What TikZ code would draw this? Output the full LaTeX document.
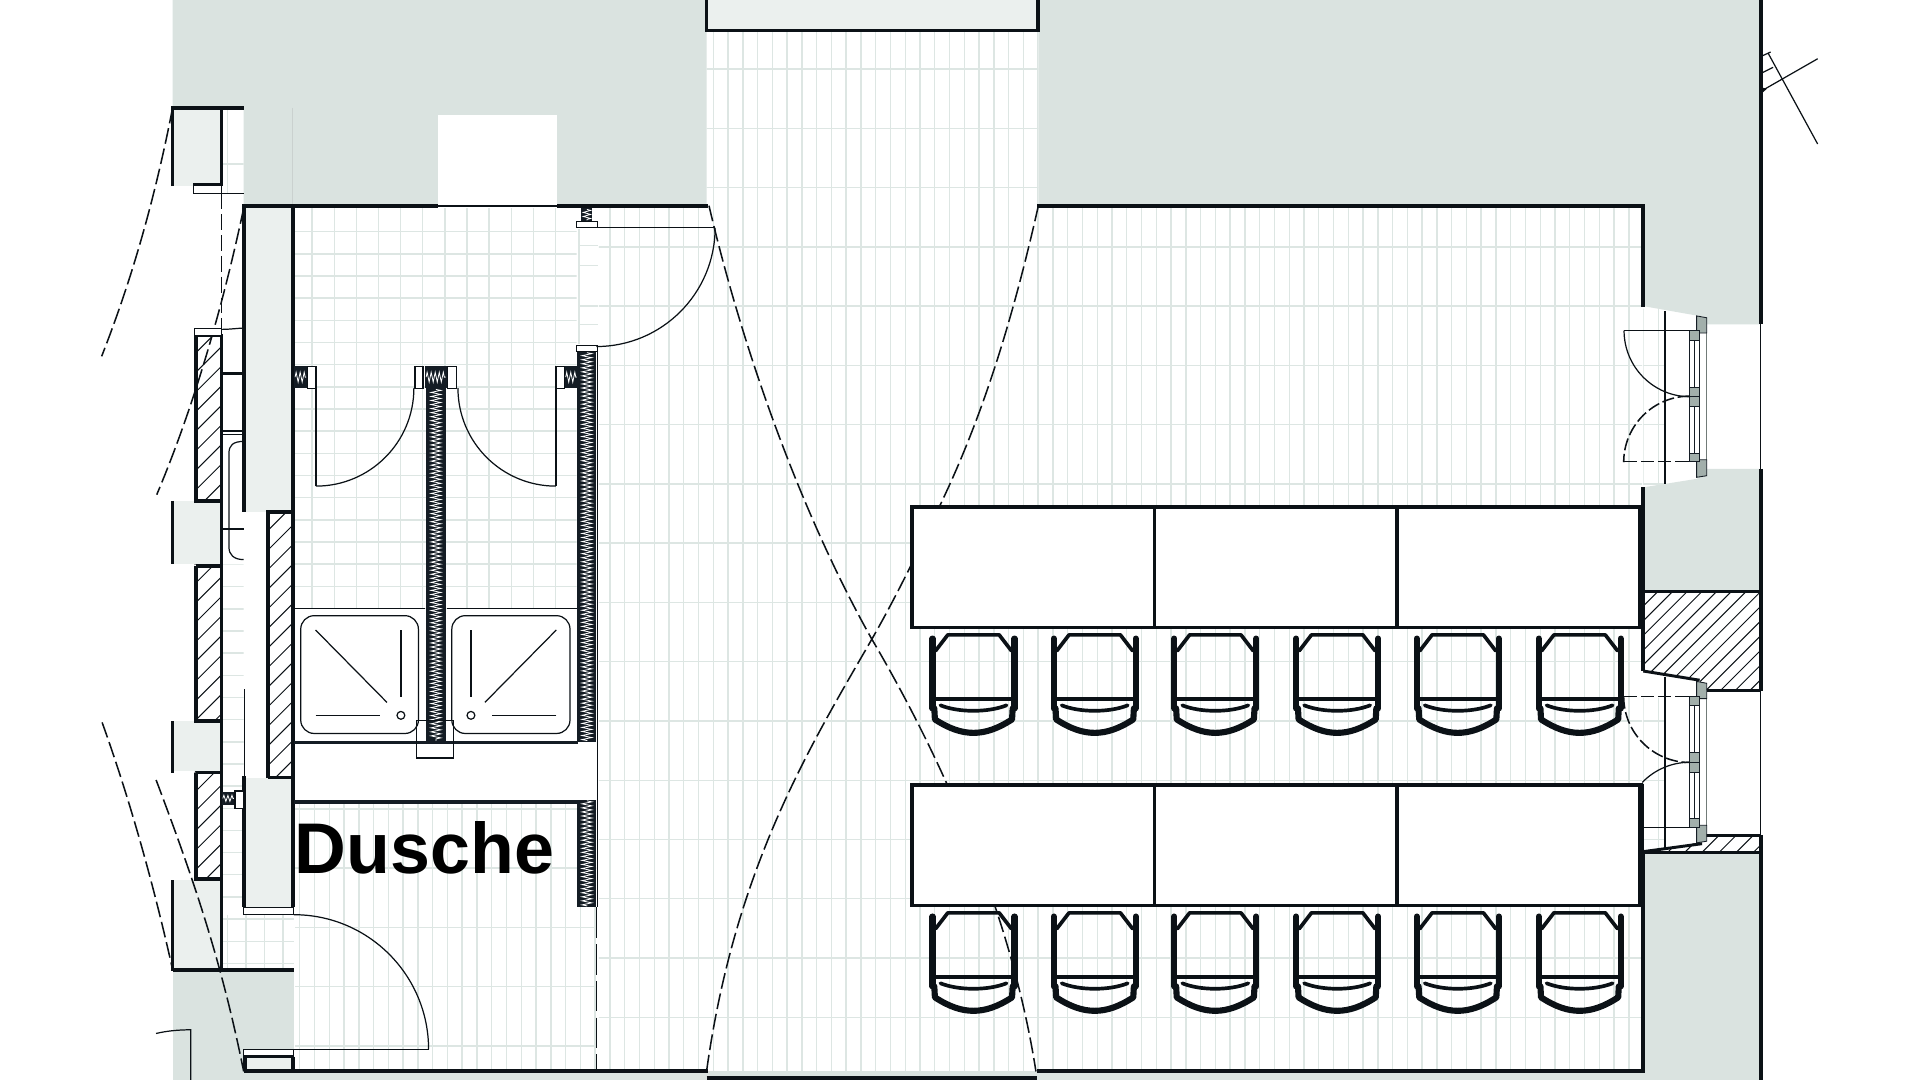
\documentclass[tikz,border=0pt]{standalone}
\usepackage{fontspec}
\setmainfont{Liberation Sans}
\usetikzlibrary{decorations.pathmorphing}
\definecolor{wallgrey}{HTML}{DAE3E0}
\definecolor{lightfill}{HTML}{EBF0EE}
\definecolor{tile}{HTML}{DDE6E3}
\definecolor{ink}{HTML}{0B1116}
\definecolor{dark}{HTML}{141C24}
\definecolor{frameg}{HTML}{A2AFAB}
\tikzset{
  tileline/.style={draw=tile,line width=1.15pt},
  wallthick/.style={draw=ink,line width=3pt,line cap=butt},
  wallmed/.style={draw=ink,line width=1.8pt},
  thinline/.style={draw=ink,line width=1pt},
  hatchline/.style={draw=ink,line width=.8pt},
  dashline/.style={draw=ink,line width=1.25pt,dash pattern=on 13pt off 4pt},
  winblock/.style={fill=frameg,draw=dark,line width=.7pt},
  capbox/.style={fill=white,draw=ink,line width=1pt},
  chairline/.style={draw=ink,line join=round,line cap=round},
  zig/.style={draw=white,line width=.65pt,decorate,decoration={zigzag,segment length=3.3pt,amplitude=#1}}
}
\newcommand{\vwall}[5]{% xc halfw y1 y2 amp
  \fill[dark] (#1-#2,#3) rectangle (#1+#2,#4);
  \draw[zig=#5] (#1,#3+1) -- (#1,#4-1);}
\newcommand{\hwall}[5]{% yc halfw x1 x2 amp
  \fill[dark] (#3,#1-#2) rectangle (#4,#1+#2);
  \draw[zig=#5] (#3+1,#1) -- (#4-1,#1);}
\newcommand{\seat}[2]{%
  \begin{scope}[shift={(#1,#2)}]
    \draw[chairline,line width=5pt] (-33.5,5) -- (-33.5,62);
    \draw[chairline,line width=5pt] (33.5,5) -- (33.5,62);
    \draw[chairline,line width=3pt] (-31,15) -- (-21,2) -- (21,2) -- (31,15);
    \draw[chairline,line width=3pt] (-33,54.5) -- (33,54.5);
    \draw[chairline,line width=3pt] (-27,59.5) .. controls (-12,65.5) and (12,65.5) .. (27,59.5);
    \draw[chairline,line width=5pt] (-32,62) -- (-31.5,71) .. controls (-20,78.5) and (-10,82) .. (0,82) .. controls (10,82) and (20,78.5) .. (31.5,71) -- (32,62);
  \end{scope}}
\newcommand{\hatchfill}[4]{% path, cstart, cnext, cend
  \begin{scope}
    \clip #1;
    \foreach \c in {#2,#3,...,#4} \draw[hatchline] (\c,0) -- (0,\c);
  \end{scope}}
\begin{document}
\begin{tikzpicture}[x=1pt,y=-1pt]
\useasboundingbox (0,0) rectangle (1568,882);
\fill[white] (0,0) rectangle (1568,882);
% ---------- grey masses
\fill[wallgrey] (141,0) -- (577,0) -- (577,168) -- (199,168) -- (199,88) -- (141,88) -- cycle;
\fill[white] (358,94) rectangle (455,168);
\fill[wallgrey] (848,0) -- (1438,0) -- (1438,265) -- (1394,265) -- (1393,259) -- (1342,250) -- (1342,168) -- (848,168) -- cycle;
\fill[wallgrey] (1342,398) -- (1386,391) -- (1394,383) -- (1438,383) -- (1438,483) -- (1342,483) -- cycle;
\fill[wallgrey] (1342,697) rectangle (1438,882);
\fill[wallgrey] (141,793) rectangle (240,882);
\fill[wallgrey] (199,875) rectangle (1342,882);
% ---------- tile grids
\begin{scope}
  \clip (489,168) rectangle (1341,875) (577,25) rectangle (848,168) (1342,252) rectangle (1360,396) (1342,570) rectangle (1360,694);
  \foreach \k in {-8,...,66} \draw[tileline] ({582.5+12.06*\k},0) -- ({582.5+12.06*\k},882);
  \foreach \k in {0,...,17} \draw[tileline] (480,{56.4+48.4*\k}) -- (1400,{56.4+48.4*\k});
\end{scope}
\begin{scope}
  \clip (241,170) rectangle (471,497);
  \foreach \k in {0,...,12} \draw[tileline] ({254.9+18.07*\k},160) -- ({254.9+18.07*\k},500);
  \foreach \k in {0,...,17} \draw[tileline] (240,{189.2+18.1*\k}) -- (480,{189.2+18.1*\k});
\end{scope}
\begin{scope}
  \clip (241,655) rectangle (487,875);
  \foreach \k in {0,...,20} \draw[tileline] ({244.8+12.06*\k},650) -- ({244.8+12.06*\k},880);
  \foreach \k in {0,...,4} \draw[tileline] (240,{660.6+48.4*\k}) -- (490,{660.6+48.4*\k});
\end{scope}
\begin{scope}
  \clip (181,461) rectangle (199,747) (181,747) rectangle (240,793) (181,89) rectangle (199,158);
  \foreach \k in {0,...,18} \draw[tileline] (180,{461+18.1*\k}) -- (245,{461+18.1*\k});
  \draw[tileline] (180,134) -- (199,134);
  \foreach \k in {0,...,3} \draw[tileline] ({186+15*\k},747) -- ({186+15*\k},793);
  \draw[tileline] (186,89) -- (186,158);
\end{scope}
\foreach \yy in {200.6,217,250,265} \draw[tileline] (473,\yy) -- (488,\yy);
\draw[tileline] (473,187) -- (473,281);
\draw[draw=tile!80!gray,line width=.4pt] (239,88) -- (239,168);
% ---------- light fills
\fill[lightfill] (141,88) rectangle (181,152);
\fill[lightfill] (141,409) rectangle (181,461);
\fill[lightfill] (141,589) rectangle (181,630);
\fill[lightfill] (141,719) rectangle (181,792);
\fill[lightfill] (200,168) rectangle (239,418);
\fill[lightfill] (200,635) rectangle (239,741);
\fill[lightfill] (577,0) rectangle (848,25);
\fill[lightfill] (199,862) rectangle (240,875);
% ---------- swing curves (dashed)
\draw[dashline] (579,168) .. controls (610,300) and (660,430) .. (712,522) .. controls (765,612) and (825,740) .. (846,875);
\draw[dashline] (848,168) .. controls (825,270) and (800,345) .. (768,412) .. controls (750,450) and (732,487) .. (712,522) .. controls (660,612) and (600,710) .. (577,875);
\draw[dashline] (141,88) .. controls (125,170) and (105,235) .. (83,291);
\draw[dashline] (199,170) .. controls (180,260) and (155,340) .. (128,404);
\draw[dashline] (83.4,590) .. controls (105,650) and (125,720) .. (141,792);
\draw[dashline] (127.5,637) .. controls (155,710) and (180,780) .. (199,875);
\draw[dashline] (181,158) -- (181,273);
% ---------- hatching
\hatchfill{(159,273) rectangle (181,409)}{432}{448}{592}
\hatchfill{(159,461) rectangle (181,589)}{620}{636}{772}
\hatchfill{(159,630) rectangle (181,719)}{790}{806}{902}
\hatchfill{(218,418) rectangle (239,635)}{636}{652}{876}
\hatchfill{(1342,483) -- (1438,483) -- (1438,564) -- (1394,564) -- (1388,556) -- (1342,548) -- cycle}{1825}{1837}{2005}
\hatchfill{(1342,695) -- (1388,688) -- (1392,682) -- (1438,682) -- (1438,697) -- cycle}{2030}{2044}{2140}
% ---------- left walls
\draw[wallthick] (141,152) -- (141,88) -- (199,88);
\draw[wallthick] (181,88) -- (181,152);
\fill[white] (158,152) rectangle (181,158);
\draw[thinline] (158,151) rectangle (181,158);
\draw[wallmed,line width=2.4pt] (158,151) -- (181,151);
\draw[thinline] (181,158) -- (199,158);
\draw[wallthick] (199.5,168) -- (199.5,418);
\draw[thinline] (199.5,563) -- (199.5,634);
\draw[wallthick] (199.5,634) -- (199.5,741);
\draw[wallthick] (239.5,168) -- (239.5,741);
\draw[wallthick] (160,274) -- (160,409) -- (181,409);
\draw[wallthick] (160,274) -- (181,274);
\draw[wallthick] (160,462) -- (160,589) -- (181,589);
\draw[wallthick] (160,462) -- (181,462);
\draw[wallthick] (160,631) -- (160,718) -- (181,718);
\draw[wallthick] (160,631) -- (181,631);
\draw[wallthick] (219,635) -- (219,418) -- (239,418);
\draw[wallthick] (219,635) -- (239,635);
\draw[wallthick] (181,273) -- (181,793);
\draw[capbox] (159,268) rectangle (181,274);
\draw[thinline] (181,269) .. controls (188,269) and (194,268) .. (199,268);
\draw[wallmed,line width=3pt] (181,305) -- (199,305);
\draw[wallmed] (181,352) -- (199,352);
\draw[thinline] (181,355) -- (199,355);
\draw[thinline] (199,360.5) .. controls (190,360.5) and (187,364) .. (187,370) -- (187,447) .. controls (187,453) and (191,457) .. (199,457);
\draw[thinline] (181,432) -- (199,432);
\draw[wallthick] (141,409) -- (141,461);
\draw[wallthick] (141,589) -- (141,631);
\draw[wallthick] (141,719) -- (141,793);
\draw[wallthick] (141,792) -- (240,792);
% small wall stub beside the hatched pier
\hwall{652}{5.5}{181}{192}{2.5pt}
\draw[capbox] (192,646) rectangle (199,660);
% column caps and main door
\draw[capbox] (199,741) rectangle (240,747);
\draw[thinline] (240,747) arc[start angle=270,end angle=360,radius=110];
\draw[thinline] (350,857) -- (199,857);
\draw[capbox] (199,857) rectangle (240,862.5);
\draw[wallmed,line width=2.4pt] (199,863) -- (240,863);
\draw[wallthick] (200,863) -- (200,875);
\draw[wallthick] (239.5,863) -- (239.5,875);
\draw[thinline] (127.4,844) .. controls (136,842) and (145,841) .. (155.7,841) -- (155.7,882);
% ---------- top and bottom walls
\draw[wallthick] (198,168.2) -- (358,168.2);
\draw[thinline] (358,168.2) -- (455,168.2);
\draw[wallthick] (455,168.2) -- (578,168.2);
\draw[wallthick] (847,168.2) -- (1343,168.2);
\draw[wallthick] (577,0) -- (577,25) -- (847.5,25) -- (847.5,0);
\draw[wallthick] (199,874.8) -- (578,874.8);
\draw[wallthick] (577,880.6) -- (847,880.6);
\draw[wallthick] (847,874.8) -- (1343,874.8);
% ---------- insulated partitions
\vwall{479.3}{4.5}{170}{181}{3pt}
\draw[capbox] (471,181) rectangle (488,186);
\vwall{479.3}{7.8}{287}{606}{4pt}
\draw[capbox] (471,282) rectangle (488,287);
\vwall{356}{8}{317}{606}{4pt}
\hwall{308}{8.7}{347}{365}{4pt}
\draw[capbox] (339,299) rectangle (345.5,317);
\draw[capbox] (365.5,299) rectangle (372.5,317);
\hwall{308}{8.7}{240}{251}{4pt}
\draw[capbox] (251,299) rectangle (258,317);
\hwall{308}{8.7}{461}{472}{4pt}
\draw[capbox] (454,299) rectangle (461,317);
\draw[wallmed,draw=dark,line width=3pt] (240,606.5) -- (472,606.5);
\draw[wallmed,draw=dark,line width=3pt] (240,655) -- (472,655);
\vwall{479.3}{7.8}{653}{741}{4pt}
\draw[thinline,line width=1.4pt] (488,287) -- (488,741);
\draw[thinline,dash pattern=on 25pt off 5pt] (487,741) -- (487,875);
% ---------- doors
\draw[thinline] (488,186) -- (584,186);
\draw[thinline] (584,186) arc[start angle=0,end angle=90,radius=97];
\draw[thinline] (258,317) -- (258,397);
\draw[thinline] (258,397) arc[start angle=90,end angle=0,radius=80];
\draw[thinline] (454,317) -- (454,397);
\draw[thinline] (454,397) arc[start angle=90,end angle=180,radius=80];
% ---------- showers
\draw[thinline] (241,497) -- (347,497);
\draw[thinline] (365,497) -- (471,497);
\draw[thinline,fill=white,rounded corners=11pt] (245.6,502.8) rectangle (341.7,599);
\draw[thinline,fill=white,rounded corners=11pt] (369,502.8) rectangle (465.5,599);
\draw[thinline] (257.7,514.5) -- (316,573.6);
\draw[thinline] (327.4,514.5) -- (327.4,569);
\draw[thinline] (257.7,584.2) -- (310,584.2);
\draw[thinline] (327.4,584.2) circle[radius=3.2];
\draw[thinline] (454.3,514.5) -- (396,573.6);
\draw[thinline] (384.6,514.5) -- (384.6,569);
\draw[thinline] (454.3,584.2) -- (402,584.2);
\draw[thinline] (384.6,584.2) circle[radius=3.2];
\draw[thinline] (340,588.6) rectangle (370.6,619);
\node[font=\bfseries\fontsize{58.6}{60}\selectfont,text=black,anchor=base west,inner sep=0pt] (dusche) at (240.5,713) {Dusche};
% ---------- right walls
\draw[wallthick] (1342,167) -- (1342,250.5);
\draw[wallthick] (1342,398) -- (1342,548);
\draw[wallthick] (1342,695) -- (1342,876);
\draw[wallthick] (1438,0) -- (1438,265);
\draw[thinline] (1438,265) -- (1438,383);
\draw[wallthick] (1438,383) -- (1438,564);
\draw[thinline] (1438,564) -- (1438,682);
\draw[wallthick] (1438,682) -- (1438,882);
\draw[wallthick] (1342,483) -- (1438,483);
\draw[wallmed,line width=2.4pt] (1342,548) -- (1388,555.5);
\draw[wallmed,line width=2.4pt] (1394,564) -- (1438,564);
\draw[wallmed,line width=2.4pt] (1392,682) -- (1438,682);
\draw[wallmed,line width=2.4pt] (1342,695.5) -- (1390,689);
\draw[wallmed,line width=2.4pt] (1342,696.5) -- (1438,696.5);
% ---------- windows
\foreach \dy in {0,298.5}{
  \begin{scope}[shift={(0,\dy)}]
    \draw[thinline] (1359.7,254) -- (1359.7,395.5);
    \draw[draw=dark,line width=.9pt] (1380,270) rectangle (1387.6,377);
    \draw[draw=dark,line width=.7pt] (1384,278) -- (1384,370);
    \draw[draw=frameg!70!black,line width=1pt] (1393.5,272) -- (1393.5,376);
    \fill[frameg,draw=dark,line width=.7pt] (1385.6,258) -- (1393.8,259.5) -- (1393.8,272) -- (1385.6,272) -- cycle;
    \fill[frameg,draw=dark,line width=.7pt] (1385.6,375.5) -- (1393.8,375.5) -- (1393.8,388.5) -- (1385.6,389.8) -- cycle;
    \draw[winblock] (1380,270) rectangle (1387.6,278);
    \draw[winblock] (1380,316) rectangle (1387.6,324);
    \draw[winblock] (1380,324) rectangle (1387.6,332);
    \draw[winblock] (1380,370) rectangle (1387.6,377);
  \end{scope}}
\draw[thinline] (1326.3,270) -- (1380,270);
\draw[thinline] (1326.3,270) arc[start angle=180,end angle=90,radius=54];
\draw[dashline,dash pattern=on 10pt off 3pt] (1380,323.5) arc[start angle=270,end angle=180,radius=54];
\draw[dashline,dash pattern=on 11pt off 3pt] (1326,377) -- (1380,377);
\draw[dashline,dash pattern=on 11pt off 3pt] (1326,568.7) -- (1380,568.7);
\draw[dashline,dash pattern=on 10pt off 3pt] (1326,568.7) arc[start angle=180,end angle=90,radius=54];
\draw[thinline] (1380,622.5) arc[start angle=270,end angle=224,radius=54];
\draw[thinline] (1342,676) -- (1380,676);
% ---------- tables
\foreach \ty in {414,641}{
  \draw[wallthick,fill=white] (745,\ty) rectangle (1340,\ty+98.5);
  \draw[wallthick] (942.7,\ty) -- (942.7,\ty+98.5);
  \draw[wallthick] (1141,\ty) -- (1141,\ty+98.5);
  \draw[wallthick,line width=4.4pt] (1340,\ty-1) -- (1340,\ty+99.5);
}
% ---------- chairs
\foreach \cx in {795,894,992.5,1092,1190.5,1290}{
  \seat{\cx}{516.5}
  \seat{\cx}{743.5}
}
% ---------- detail outside the east wall
\draw[thinline] (1444,43.5) -- (1484.4,117.6);
\draw[thinline] (1439,45.7) -- (1446,42.5);
\draw[thinline] (1439,59.5) -- (1448,55);
\draw[thinline] (1439,74) -- (1484.4,48);
\fill[ink] (1439,71.5) -- (1443,72.5) -- (1439,76) -- cycle;
\end{tikzpicture}
\end{document}
